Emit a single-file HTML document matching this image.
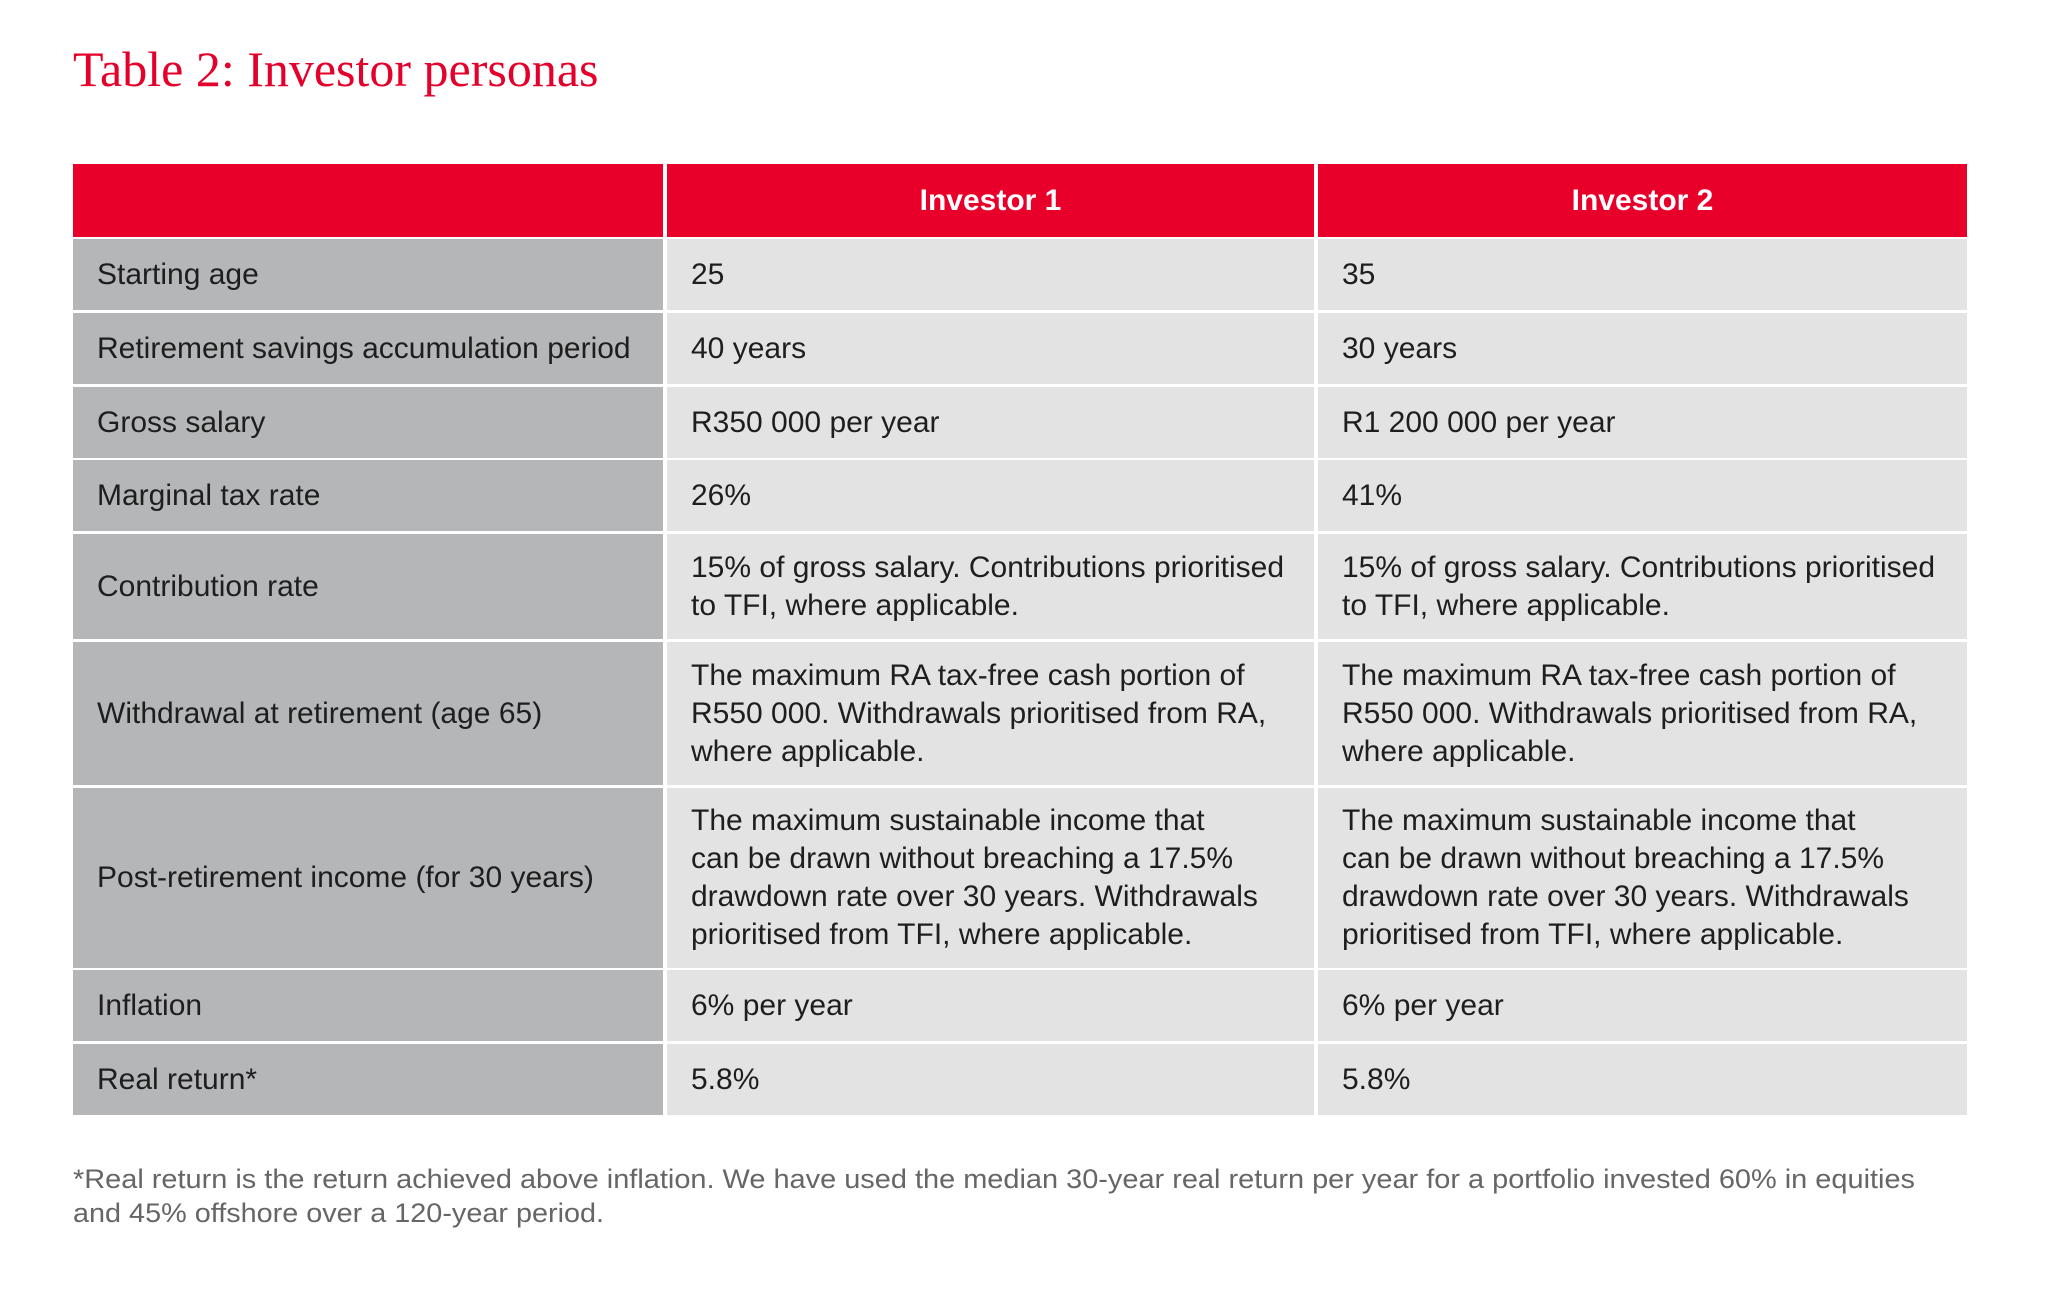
<!DOCTYPE html>
<html><head><meta charset="utf-8"><style>
body{margin:0;width:2057px;height:1297px;background:#fff;position:relative;overflow:hidden;font-family:"Liberation Sans Narrow","Liberation Sans",sans-serif;}
.t{position:absolute;left:73px;top:40px;font-family:"Liberation Serif",serif;font-size:50px;color:#e4002b;white-space:nowrap;}
.c{position:absolute;box-sizing:border-box;display:flex;align-items:center;padding-left:24px;font-size:30px;line-height:38px;color:#1e1e1e;font-stretch:condensed;}
.l{background:#b5b6b8;}
.v{background:#e3e3e3;}
.h{background:#e8002b;color:#fff;font-weight:bold;justify-content:center;padding-left:0;}
</style></head><body>
<div class="t">Table 2: Investor personas</div>
<div id="tbl"></div>
<svg style="position:absolute;left:0;top:0" width="2057" height="1297">
<text x="73" y="1188" font-family="Liberation Sans, sans-serif" font-size="27" fill="#666" textLength="1842" lengthAdjust="spacingAndGlyphs">*Real return is the return achieved above inflation. We have used the median 30-year real return per year for a portfolio invested 60% in equities</text>
<text x="73" y="1222" font-family="Liberation Sans, sans-serif" font-size="27" fill="#666" textLength="531" lengthAdjust="spacingAndGlyphs">and 45% offshore over a 120-year period.</text>
</svg>
<script>
const rowTops=[164,239,313,387,460,534,642,788,970,1044];
const rowBots=[237,310,384,458,531,639,785,968,1041,1115];
const colL=[73,667,1318], colR=[663,1314,1967];
const rows=[
["","Investor 1","Investor 2"],
["Starting age","25","35"],
["Retirement savings accumulation period","40 years","30 years"],
["Gross salary","R350 000 per year","R1 200 000 per year"],
["Marginal tax rate","26%","41%"],
["Contribution rate","15% of gross salary. Contributions prioritised<br>to TFI, where applicable.","15% of gross salary. Contributions prioritised<br>to TFI, where applicable."],
["Withdrawal at retirement (age 65)","The maximum RA tax-free cash portion of<br>R550 000. Withdrawals prioritised from RA,<br>where applicable.","The maximum RA tax-free cash portion of<br>R550 000. Withdrawals prioritised from RA,<br>where applicable."],
["Post-retirement income (for 30 years)","The maximum sustainable income that<br>can be drawn without breaching a 17.5%<br>drawdown rate over 30 years. Withdrawals<br>prioritised from TFI, where applicable.","The maximum sustainable income that<br>can be drawn without breaching a 17.5%<br>drawdown rate over 30 years. Withdrawals<br>prioritised from TFI, where applicable."],
["Inflation","6% per year","6% per year"],
["Real return*","5.8%","5.8%"]];
const tbl=document.getElementById('tbl');
rows.forEach((r,i)=>{r.forEach((txt,j)=>{
 const d=document.createElement('div');
 d.className='c '+(i==0?'h':(j==0?'l':'v'));
 d.style.left=colL[j]+'px';d.style.width=(colR[j]-colL[j])+'px';
 d.style.top=rowTops[i]+'px';d.style.height=(rowBots[i]-rowTops[i])+'px';
 d.innerHTML='<span>'+txt+'</span>';
 
 
 tbl.appendChild(d);
});});
</script>
</body></html>
